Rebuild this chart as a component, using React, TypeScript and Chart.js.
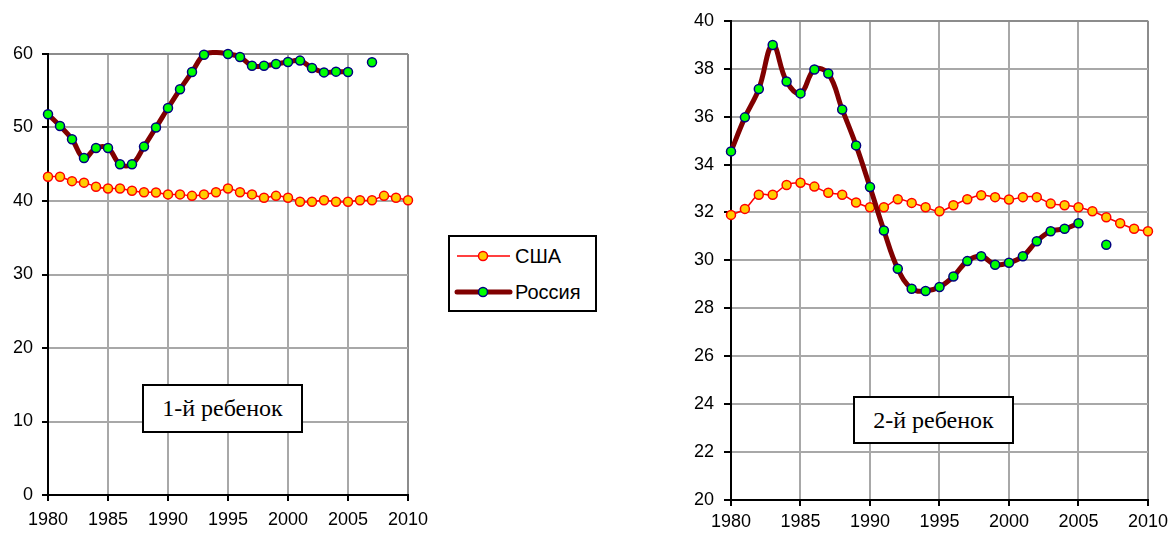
import React, { useEffect, useRef } from "react";
import { Chart, registerables } from "chart.js";

Chart.register(...registerables);

// ---------- data ----------
const years = [
  1980, 1981, 1982, 1983, 1984, 1985, 1986, 1987, 1988, 1989, 1990,
  1991, 1992, 1993, 1994, 1995, 1996, 1997, 1998, 1999, 2000,
  2001, 2002, 2003, 2004, 2005, 2006, 2007, 2008, 2009, 2010,
];

// 1st child
const usaFirst = [
  43.3, 43.3, 42.7, 42.5, 41.95, 41.7, 41.7, 41.4, 41.2, 41.15, 40.9,
  40.9, 40.7, 40.9, 41.2, 41.7, 41.2, 40.9, 40.45, 40.7, 40.45,
  39.9, 39.9, 40.1, 39.9, 39.9, 40.1, 40.1, 40.7, 40.45, 40.1,
];
const russiaFirst: (number | null)[] = [
  51.8, 50.2, 48.4, 45.85, 47.2, 47.2, 45.0, 45.0, 47.4, 50.0, 52.65,
  55.2, 57.55, 59.9, 60.2, 60.0, 59.6, 58.4, 58.4, 58.65, 58.9,
  59.1, 58.1, 57.5, 57.6, 57.55, null, 58.87, null, null, null,
];

// 2nd child
const usaSecond = [
  31.9, 32.15, 32.74, 32.74, 33.15, 33.24, 33.08, 32.82, 32.74, 32.42, 32.22,
  32.22, 32.55, 32.4, 32.22, 32.05, 32.3, 32.55, 32.72, 32.64, 32.54,
  32.64, 32.64, 32.37, 32.3, 32.22, 32.05, 31.8, 31.55, 31.32, 31.22,
];
const russiaSecond: (number | null)[] = [
  34.55, 35.97, 37.15, 38.99, 37.47, 36.97, 37.97, 37.8, 36.3, 34.8, 33.06,
  31.25, 29.65, 28.82, 28.72, 28.89, 29.33, 29.97, 30.17, 29.82, 29.9,
  30.17, 30.8, 31.22, 31.32, 31.55, null, 30.65, null, null, null,
];

const xTicks = [1980, 1985, 1990, 1995, 2000, 2005, 2010];
const firstYTicks = [0, 10, 20, 30, 40, 50, 60];
const secondYTicks = [20, 22, 24, 26, 28, 30, 32, 34, 36, 38, 40];

const seriesNames = ["США", "Россия"];
const panelTitles = ["1-й ребенок", "2-й ребенок"];

// ---------- styling ----------
const SANS = "'Liberation Sans', Arial, sans-serif";
const SERIF = "'Liberation Serif', 'Times New Roman', serif";
const USA_LINE = "#ff0000";
const USA_FILL = "#ffcc00";
const RUS_LINE = "#800000";
const RUS_FILL = "#00ff00";
const RUS_EDGE = "#000080";

type Geo = {
  yAxisWidth: number;
  xAxisHeight: number;
  padTop: number;
  padRight: number;
  yTickLen: number;
  yTickPad: number;
  xTickPad: number;
};

function makeConfig(
  usa: (number | null)[],
  rus: (number | null)[],
  yTicks: number[],
  geo: Geo
): any {
  const yMin = yTicks[0];
  const yMax = yTicks[yTicks.length - 1];
  const xMin = xTicks[0];
  const xMax = xTicks[xTicks.length - 1];
  const toPts = (arr: (number | null)[]) => years.map((yr, i) => ({ x: yr, y: arr[i] }));
  const radius = (r: number) => (ctx: any) => {
    const v = ctx.raw && ctx.raw.y;
    return v != null && v > yMax ? 0 : r;
  };
  return {
    type: "line",
    data: {
      datasets: [
        {
          label: seriesNames[0],
          data: toPts(usa),
          borderColor: USA_LINE,
          borderWidth: 1.5,
          pointBackgroundColor: USA_FILL,
          pointBorderColor: USA_LINE,
          pointBorderWidth: 1.5,
          pointRadius: radius(4.5),
          tension: 0.4,
          spanGaps: false,
          clip: 8,
          order: 2,
        },
        {
          label: seriesNames[1],
          data: toPts(rus),
          borderColor: RUS_LINE,
          borderWidth: 5,
          pointBackgroundColor: RUS_FILL,
          pointBorderColor: RUS_EDGE,
          pointBorderWidth: 1.5,
          pointRadius: radius(4.5),
          tension: 0.4,
          spanGaps: false,
          clip: 8,
          order: 1,
        },
      ],
    },
    options: {
      animation: false,
      responsive: false,
      events: [],
      layout: {
        padding: { top: geo.padTop, right: geo.padRight, left: 0, bottom: 0 },
      },
      plugins: {
        legend: { display: false },
        tooltip: { enabled: false },
        title: { display: false },
      },
      scales: {
        x: {
          type: "linear",
          min: xMin,
          max: xMax,
          afterBuildTicks: (s: any) => {
            s.ticks = xTicks.map((v) => ({ value: v }));
          },
          afterFit: (s: any) => {
            s.height = geo.xAxisHeight;
          },
          ticks: {
            color: "#000",
            font: { family: SANS, size: 18 },
            padding: geo.xTickPad,
            maxRotation: 0,
            autoSkip: false,
            callback: (v: any) => String(v),
          },
          grid: {
            color: (c: any) => (c.tick && c.tick.value === xMax ? "#8c8c8c" : "#a8a8a8"),
            lineWidth: 2,
            tickColor: "#000",
            tickLength: 6,
            tickWidth: 2,
          },
          border: { color: "#000", width: 2 },
        },
        y: {
          type: "linear",
          min: yMin,
          max: yMax,
          afterBuildTicks: (s: any) => {
            s.ticks = yTicks.map((v) => ({ value: v }));
          },
          afterFit: (s: any) => {
            s.width = geo.yAxisWidth;
          },
          ticks: {
            color: "#000",
            font: { family: SANS, size: 18 },
            padding: geo.yTickPad,
            autoSkip: false,
            callback: (v: any) => String(v),
          },
          grid: {
            color: (c: any) => (c.tick && c.tick.value === yMax ? "#8c8c8c" : "#a8a8a8"),
            lineWidth: 2,
            tickColor: "#000",
            tickLength: geo.yTickLen,
            tickWidth: 2,
          },
          border: { color: "#000", width: 2 },
        },
      },
    },
  };
}

function LineChart(props: {
  usa: (number | null)[];
  rus: (number | null)[];
  yTicks: number[];
  geo: Geo;
  left: number;
  width: number;
}) {
  const ref = useRef<HTMLCanvasElement | null>(null);
  useEffect(() => {
    if (!ref.current) return;
    const chart = new Chart(ref.current, makeConfig(props.usa, props.rus, props.yTicks, props.geo));
    return () => chart.destroy();
  }, []);
  return (
    <canvas
      ref={ref}
      width={props.width}
      height={536}
      style={{ position: "absolute", left: props.left, top: 0, width: props.width, height: 536 }}
    />
  );
}

function TitleBox(props: { text: string; left: number; top: number; width: number; height: number }) {
  return (
    <div
      style={{
        position: "absolute",
        left: props.left,
        top: props.top,
        width: props.width,
        height: props.height,
        boxSizing: "border-box",
        border: "2px solid #000",
        background: "#fff",
        display: "flex",
        alignItems: "center",
        justifyContent: "center",
        fontFamily: SERIF,
        fontSize: 24,
        color: "#000",
        whiteSpace: "nowrap",
      }}
    >
      {props.text}
    </div>
  );
}

function Legend() {
  const rows = [
    { name: seriesNames[0], line: USA_LINE, lw: 1.5, fill: USA_FILL, edge: USA_LINE, cy: 21 },
    { name: seriesNames[1], line: RUS_LINE, lw: 5, fill: RUS_FILL, edge: RUS_EDGE, cy: 57 },
  ];
  return (
    <div
      style={{
        position: "absolute",
        left: 448,
        top: 235,
        width: 149,
        height: 77,
        boxSizing: "border-box",
        border: "2px solid #000",
        background: "#fff",
      }}
    >
      <svg width={145} height={73} style={{ position: "absolute", left: 0, top: 0 }}>
        {rows.map((r) => (
          <g key={r.name}>
            <line x1={7} x2={60} y1={r.cy - 2} y2={r.cy - 2} stroke={r.line} strokeWidth={r.lw} strokeLinecap={r.lw > 2 ? "round" : "butt"} />
            <circle cx={33} cy={r.cy - 2} r={4.5} fill={r.fill} stroke={r.edge} strokeWidth={1.5} />
          </g>
        ))}
      </svg>
      {rows.map((r) => (
        <div
          key={r.name}
          style={{
            position: "absolute",
            left: 65,
            top: r.cy - 2 - 12,
            height: 24,
            lineHeight: "24px",
            fontFamily: SANS,
            fontSize: 20,
            color: "#000",
            whiteSpace: "nowrap",
          }}
        >
          {r.name}
        </div>
      ))}
    </div>
  );
}

export default function App() {
  const leftGeo: Geo = {
    yAxisWidth: 48,
    xAxisHeight: 41,
    padTop: 54,
    padRight: 32,
    yTickLen: 6,
    yTickPad: 9,
    xTickPad: 8,
  };
  const rightGeo: Geo = {
    yAxisWidth: 71,
    xAxisHeight: 36,
    padTop: 20,
    padRight: 25,
    yTickLen: 7,
    yTickPad: 10,
    xTickPad: 5,
  };
  return (
    <div style={{ position: "absolute", left: 0, top: 0, width: 1173, height: 536, background: "#fff", overflow: "hidden" }}>
      <LineChart usa={usaFirst} rus={russiaFirst} yTicks={firstYTicks} geo={leftGeo} left={0} width={440} />
      <LineChart usa={usaSecond} rus={russiaSecond} yTicks={secondYTicks} geo={rightGeo} left={660} width={513} />
      <TitleBox text={panelTitles[0]} left={142} top={384} width={161} height={49} />
      <TitleBox text={panelTitles[1]} left={853} top={396} width={161} height={48} />
      <Legend />
    </div>
  );
}
